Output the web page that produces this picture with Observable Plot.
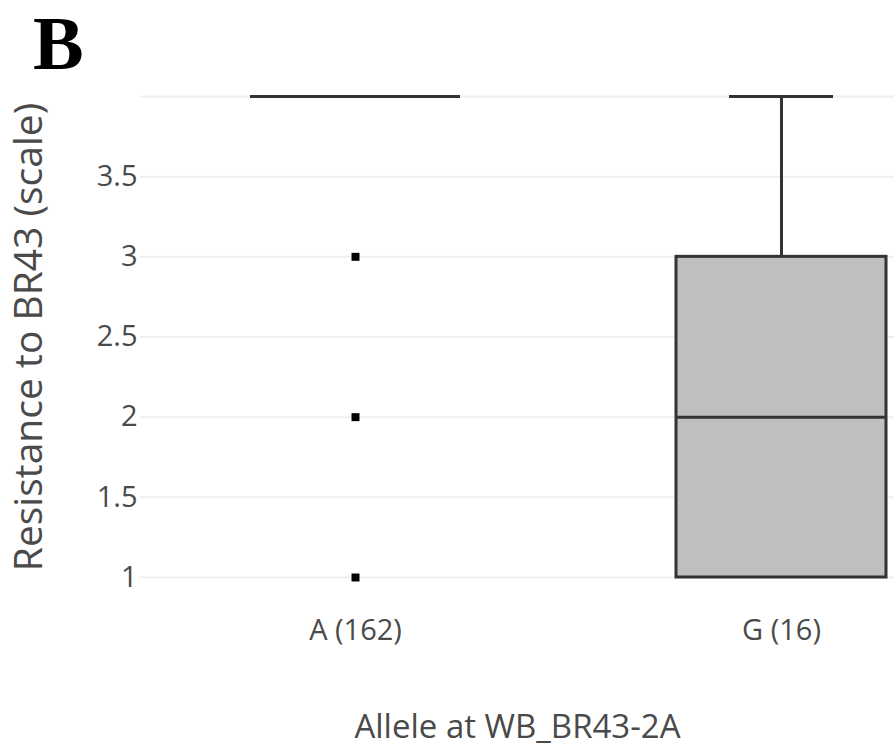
<!DOCTYPE html>
<html><head><meta charset="utf-8">
<script src="https://cdn.jsdelivr.net/npm/d3@7"></script>
<script src="https://cdn.jsdelivr.net/npm/@observablehq/plot@0.6"></script>
<style>
body{margin:0;background:#fff;}
#wrap{position:relative;width:894px;height:747px;overflow:hidden;}
#panel{position:absolute;left:33px;top:5px;line-height:1;font-family:"Liberation Serif","DejaVu Serif",serif;font-weight:bold;font-size:76px;color:#000;}
#chart{position:absolute;left:0;top:0;}
#chart svg{font-family:"Open Sans",sans-serif;}
g[aria-label="y-axis label"] text{font-size:39px;}
g[aria-label="x-axis label"] text{font-size:33px;}
</style></head><body>
<div id="wrap"><div id="chart"></div><div id="panel">B</div></div>
<script>
const groups = ["A (162)", "G (16)"];
const q1 = [4, 1];
const median = [4, 2];
const q3 = [4, 3];
const whiskerLow = [4, 1];
const whiskerHigh = [4, 4];
const outlierGroup = ["A (162)", "A (162)", "A (162)"];
const outlierValue = [3, 2, 1];
const yTicks = [1, 1.5, 2, 2.5, 3, 3.5];
const gridTicks = [1, 1.5, 2, 2.5, 3, 3.5, 4];
const xTitle = "Allele at WB_BR43-2A";
const yTitle = "Resistance to BR43 (scale)";

const boxes = groups.map((g, i) => ({group: g, q1: q1[i], median: median[i], q3: q3[i], lo: whiskerLow[i], hi: whiskerHigh[i]}));
const outliers = outlierGroup.map((g, i) => ({group: g, value: outlierValue[i]}));

const chart = Plot.plot({
  width: 894,
  height: 747,
  marginTop: 96,
  marginBottom: 170,
  marginLeft: 140,
  marginRight: 0,
  style: {color: "#4a4a4a", background: "transparent"},
  x: {type: "band", domain: groups, paddingInner: 0.508, paddingOuter: 0.137, align: 0.93},
  y: {domain: [1, 4]},
  marks: [
    Plot.gridY(gridTicks, {stroke: "#efefef", strokeOpacity: 1, strokeWidth: 2}),
    Plot.ruleX(boxes, {x: "group", y1: "q3", y2: "hi", stroke: "#333", strokeWidth: 3}),
    Plot.ruleX(boxes, {x: "group", y1: "lo", y2: "q1", stroke: "#333", strokeWidth: 3}),
    Plot.tickY(boxes, {x: "group", y: "hi", stroke: "#333", strokeWidth: 3, insetLeft: 53, insetRight: 53}),
    Plot.barY(boxes, {x: "group", y1: "q1", y2: "q3", fill: "#bfbfbf", stroke: "#333", strokeWidth: 3}),
    Plot.tickY(boxes, {x: "group", y: "median", stroke: "#333", strokeWidth: 3}),
    Plot.dot(outliers, {x: "group", y: "value", symbol: "square", r: 4.5, fill: "#000", stroke: "none"}),
    Plot.axisY({ticks: yTicks, tickFormat: d => String(d), tickSize: 0, tickPadding: 3, fontSize: 29, label: yTitle, labelAnchor: "center", labelArrow: "none", labelOffset: 126}),
    Plot.axisX({tickSize: 0, tickPadding: 42, fontSize: 29, label: xTitle, labelAnchor: "center", labelArrow: "none", labelOffset: 160})
  ]
});
document.getElementById("chart").appendChild(chart);
</script>
</body></html>
